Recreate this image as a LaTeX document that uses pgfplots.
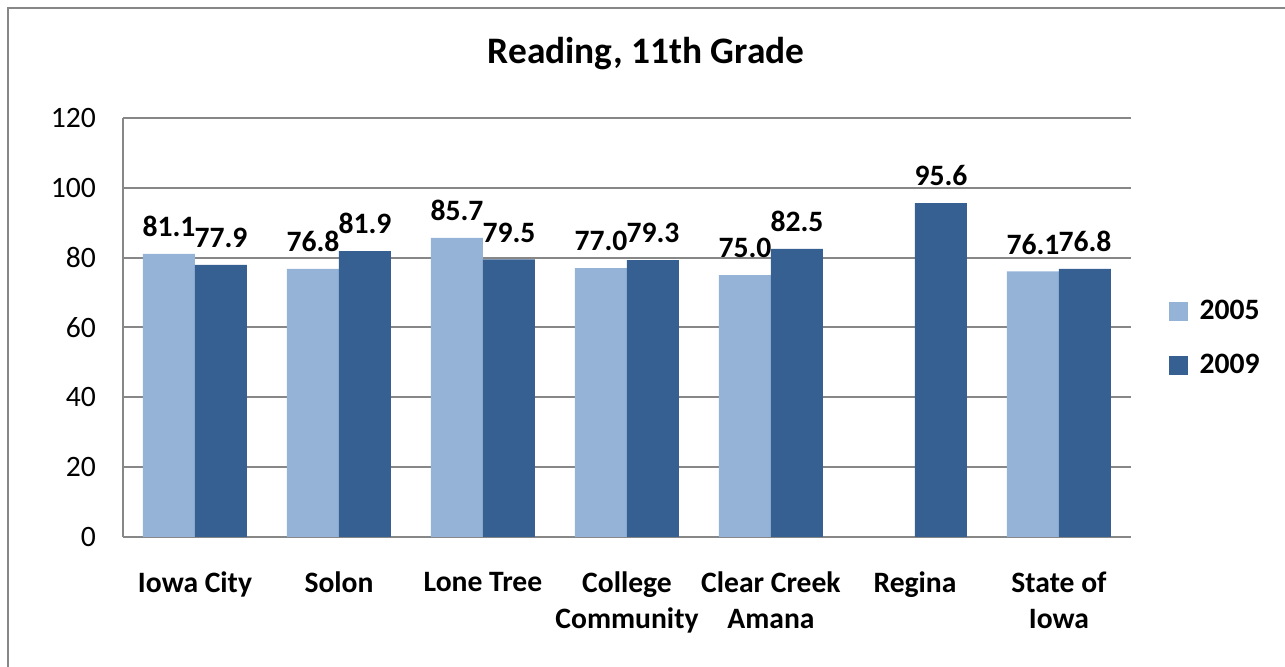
\documentclass[border=0pt]{standalone}
\usepackage{fontspec}
\setmainfont{Carlito}
\usepackage{pgfplots}
\pgfplotsset{compat=1.18}
\definecolor{light}{HTML}{95B3D7}
\definecolor{dark}{HTML}{376092}
\definecolor{framegray}{HTML}{878787}

\pgfplotsset{
  sq/.style={legend image code/.code={\fill[##1] (0pt,-4.75pt) rectangle (9.5pt,4.75pt);}},
}

\begin{document}
\begin{tikzpicture}
\useasboundingbox (0,0) rectangle (642.5pt,-333.5pt);
\begin{scope}
  \clip (0,0) rectangle (642.5pt,-333.5pt);
  \draw[framegray, line width=1pt] (4pt,-4pt) rectangle (660pt,-350pt);
\end{scope}
\node[font=\fontsize{18.7}{22}\selectfont\bfseries, anchor=base] at (323pt,-32pt) {Reading, 11th Grade};
\begin{axis}[
  at={(61.5pt,-268.5pt)}, anchor=south west,
  scale only axis, width=504pt, height=209.5pt,
  ybar=0pt, bar width=26pt,
  xmin=-0.5, xmax=6.5, ymin=0, ymax=120,
  xtick={0,...,6},
  xticklabels={Iowa City, Solon, Lone Tree, College\\Community, Clear Creek\\Amana, Regina, State of\\Iowa},
  ytick={0,20,...,120},
  axis x line*=bottom, axis y line*=left,
  axis line style={framegray, line width=1pt, -},
  major tick length=0pt,
  ymajorgrids, grid style={framegray, line width=1pt},
  /pgf/number format/assume math mode=true,
  yticklabel style={font=\fontsize{14.8}{18}\selectfont, xshift=-10pt},
  xticklabel style={font=\fontsize{14.8}{18}\selectfont\bfseries, align=center, yshift=-14pt},
  nodes near coords={\pgfmathprintnumber[fixed,fixed zerofill,precision=1,assume math mode=true]{\pgfplotspointmeta}},
  nodes near coords style={font=\fontsize{14.8}{18}\selectfont\bfseries, yshift=5pt},
  legend entries={2005,2009},
  legend cell align=left,
  legend style={draw=none, fill=none, at={(1.037,0.575)}, anchor=north west,
    font=\fontsize{14.8}{18}\selectfont\bfseries, row sep=11.5pt, column sep=4pt,
    inner sep=0pt, nodes={inner sep=2pt}},
]
\addplot[fill=light, draw=none, sq] coordinates {(0,81.1) (1,76.8) (2,85.7) (3,77.0) (4,75.0) (6,76.1)};
\addplot[fill=dark, draw=none, sq] coordinates {(0,77.9) (1,81.9) (2,79.5) (3,79.3) (4,82.5) (5,95.6) (6,76.8)};
\end{axis}
\end{tikzpicture}
\end{document}
